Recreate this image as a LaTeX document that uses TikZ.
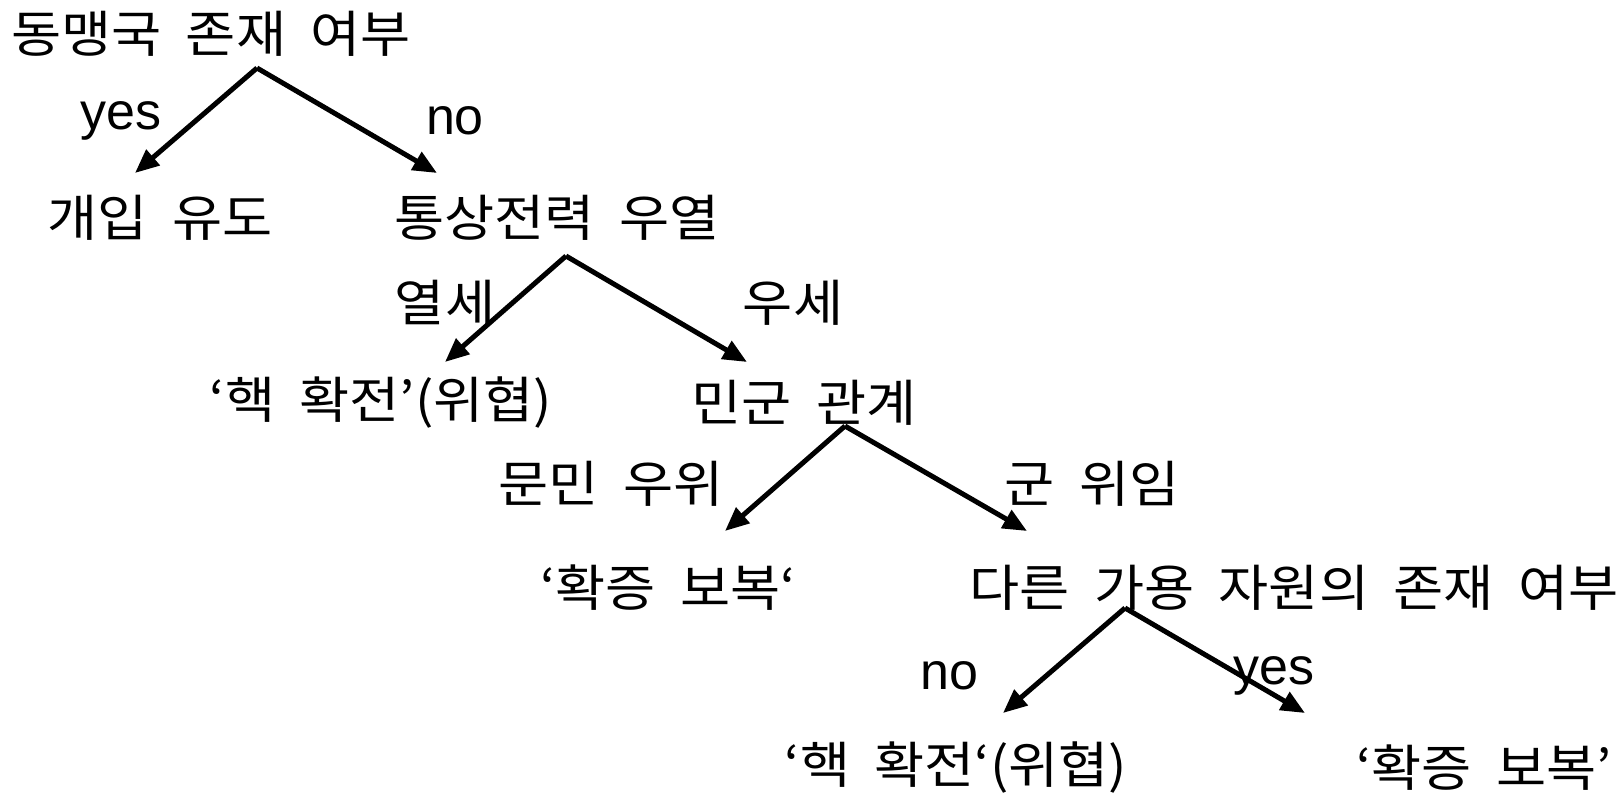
\documentclass[tikz,border=0pt]{standalone}
\usepackage{fontspec}
\setmainfont{Liberation Sans}
\newfontfamily\kr[WordSpace=2,FakeStretch=1.09]{Noto Sans CJK KR}
\usetikzlibrary{arrows.meta}
\begin{document}
\begin{tikzpicture}[x=1pt,y=-1pt,
  lbl/.style={inner sep=0pt, font=\kr\fontsize{50}{60}\selectfont},
  lat/.style={inner sep=0pt, font=\fontsize{52}{60}\selectfont},
  arr/.style={line width=5pt, line join=miter, -{Triangle[length=24pt,width=20pt]}}]
\useasboundingbox (0,0) rectangle (1620,795);
% nodes
\node[lbl] (root) at (211,34) {동맹국 존재 여부};
\node[lbl] (n1) at (160,218) {개입 유도};
\node[lbl] (n2) at (557,218) {통상전력 우열};
\node[lbl] (n3) at (381,403) {‘핵 확전’(위협)};
\node[lbl] (n4) at (804,403) {민군 관계};
\node[lbl] (n5) at (668,588) {‘확증 보복‘};
\node[lbl] (n6) at (1294,588) {다른 가용 자원의 존재 여부};
\node[lbl] (n7) at (956,768) {‘핵 확전‘(위협)};
\node[lbl] (n8) at (1484,768) {‘확증 보복’};
% edge labels
\node[lat] (l1) at (121,121) {yes};
\node[lat] (l2) at (455,121) {no};
\node[lbl] (l3) at (445,303) {열세};
\node[lbl] (l4) at (793,303) {우세};
\node[lbl] (l5) at (611,484) {문민 우위};
\node[lbl] (l6) at (1092,484) {군 위임};
\node[lat] (l7) at (949,676) {no};
\node[lat] (l8) at (1274,676) {yes};
% connector points
\coordinate (a1) at (257,68);
\coordinate (t1l) at (135,173);
\coordinate (t1r) at (437,173);
\coordinate (a2) at (566,256);
\coordinate (t2l) at (445,362);
\coordinate (t2r) at (747,362);
\coordinate (a3) at (845,426);
\coordinate (t3l) at (725,531);
\coordinate (t3r) at (1027,531);
\coordinate (a4) at (1125,608);
\coordinate (t4l) at (1003,713);
\coordinate (t4r) at (1305,713);
% connectors
\draw[arr] (a1) -- (t1l);
\draw[arr] (a1) -- (t1r);
\draw[arr] (a2) -- (t2l);
\draw[arr] (a2) -- (t2r);
\draw[arr] (a3) -- (t3l);
\draw[arr] (a3) -- (t3r);
\draw[arr] (a4) -- (t4l);
\draw[arr] (a4) -- (t4r);
\end{tikzpicture}
\end{document}
